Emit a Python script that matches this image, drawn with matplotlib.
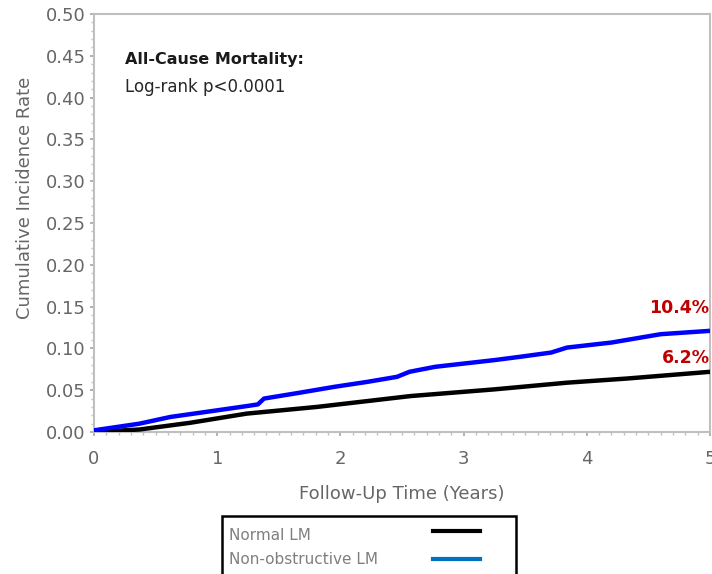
import matplotlib
matplotlib.use("Agg")
import matplotlib.pyplot as plt
from matplotlib.patches import Rectangle
from matplotlib.lines import Line2D
from matplotlib.ticker import MultipleLocator

plt.rcParams['font.family'] = ['DejaVu Sans']

# Data
normal_t = [0.0, 0.37, 0.78, 1.24, 1.81, 2.57, 3.25, 3.84, 4.33, 5.0]
normal_y = [0.0, 0.003, 0.011, 0.022, 0.030, 0.043, 0.051, 0.059, 0.064, 0.072]

nonobs_t = [0.0, 0.37, 0.62, 0.86, 1.24, 1.33, 1.38, 1.67, 1.95, 2.22, 2.46, 2.56,
            2.77, 3.25, 3.46, 3.71, 3.84, 4.2, 4.6, 5.0]
nonobs_y = [0.002, 0.010, 0.018, 0.023, 0.031, 0.033, 0.040, 0.047, 0.054, 0.060, 0.066, 0.072,
            0.078, 0.086, 0.090, 0.095, 0.101, 0.107, 0.117, 0.121]

labels = ["Normal LM", "Non-obstructive LM"]
end_labels = ["6.2%", "10.4%"]
xticks = [0, 1, 2, 3, 4, 5]
yticks = [i * 0.05 for i in range(11)]

W, H = 712, 574
fig = plt.figure(figsize=(7.12, 5.74), dpi=100)
ax = fig.add_axes([94/W, 1 - 432/H, 616/W, 418/H])

ax.plot(normal_t, normal_y, color='black', lw=3.2, solid_capstyle='butt', zorder=3)
ax.plot(nonobs_t, nonobs_y, color='#0000FF', lw=3.2, solid_capstyle='butt', zorder=4)

ax.set_xlim(0, 5)
ax.set_ylim(0, 0.50)
ax.set_xticks(xticks)
ax.set_yticks(yticks)
ax.set_yticklabels([f"{v:.2f}" for v in yticks])
ax.xaxis.set_minor_locator(MultipleLocator(0.1))
ax.yaxis.set_minor_locator(MultipleLocator(0.01))

gray = '#666666'
for s in ax.spines.values():
    s.set_color('#BFBFBF')
    s.set_linewidth(1.5)
ax.tick_params(axis='both', which='major', colors='#A6A6A6', labelcolor=gray,
               labelsize=13, length=3, width=1.2, direction='out')
ax.tick_params(axis='both', which='minor', colors='#BFBFBF', length=2, width=1, direction='out')
ax.tick_params(axis='x', pad=10)
ax.tick_params(axis='y', pad=3)

ax.set_xlabel("Follow-Up Time (Years)", color=gray, fontsize=13, labelpad=12)
ax.set_ylabel("Cumulative Incidence Rate", color=gray, fontsize=13, labelpad=9)
ax.yaxis.set_label_coords(-0.098, 0.56)

ax.text(0.05, 0.890, "All-Cause Mortality:", transform=ax.transAxes, fontsize=11.5,
        fontweight='bold', color='#1a1a1a', va='center')
ax.text(0.05, 0.825, "Log-rank p<0.0001", transform=ax.transAxes, fontsize=12,
        color='#262626', va='center')

ax.text(4.995, nonobs_y[-1] + 0.027, end_labels[1], color='#C00000', fontsize=12.5,
        fontweight='bold', ha='right', va='center')
ax.text(5.0, normal_y[-1] + 0.017, end_labels[0], color='#C00000', fontsize=12.5,
        fontweight='bold', ha='right', va='center')

# Legend box below the plot (cut off by the figure edge)
fig.patches.append(Rectangle((222/W, -0.05), (516-222)/W, (H-516)/H + 0.05,
                             transform=fig.transFigure, fill=False,
                             edgecolor='black', lw=1.8))
fig.text(229/W, 1 - 535/H, labels[0], color='#7F7F7F', fontsize=11, va='center')
fig.text(229/W, 1 - 559/H, labels[1], color='#7F7F7F', fontsize=11, va='center')
fig.lines.append(Line2D([433/W, 480/W], [1 - 531/H, 1 - 531/H], color='black', lw=3,
                        transform=fig.transFigure))
fig.lines.append(Line2D([433/W, 480/W], [1 - 559/H, 1 - 559/H], color='#0070C0', lw=3,
                        transform=fig.transFigure))

fig.savefig("out.png", dpi=100)
